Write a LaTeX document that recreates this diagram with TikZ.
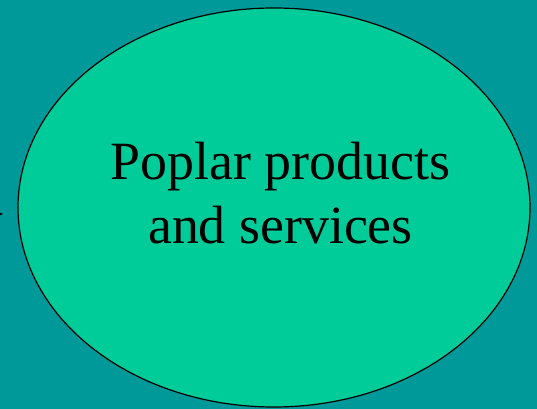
\documentclass[tikz,border=0pt]{standalone}
\usepackage{fontspec}
\setmainfont{Liberation Serif}
\usetikzlibrary{arrows.meta,shapes.geometric}

\definecolor{slidebg}{HTML}{009999}
\definecolor{ovalfill}{HTML}{00CC99}

\begin{document}
\begin{tikzpicture}[x=0.75pt,y=-0.75pt,
    oval/.style={draw=black, line width=0.9pt, fill=ovalfill, ellipse,
      minimum width=384pt, minimum height=299.25pt, inner sep=0pt},
    label/.style={font=\fontsize{40.4}{48.5}\selectfont, align=center}]
      %\draw[help lines] (0,0) grid (537,409);
      \fill[slidebg] (0,0) rectangle (537,409);
      \useasboundingbox (0,0) rectangle (537,409);

      \node[oval] (oval) at (274,207.5) {};
      \node[label] (txt) at (280.5,193) {Poplar products\\and services};

      \coordinate (tail) at (-30,214);
      \coordinate (tip) at (3,214);
      \draw[-{Stealth[length=6pt,width=5pt]}, line width=0.6pt] (tail) -- (tip);
\end{tikzpicture}
\end{document}
